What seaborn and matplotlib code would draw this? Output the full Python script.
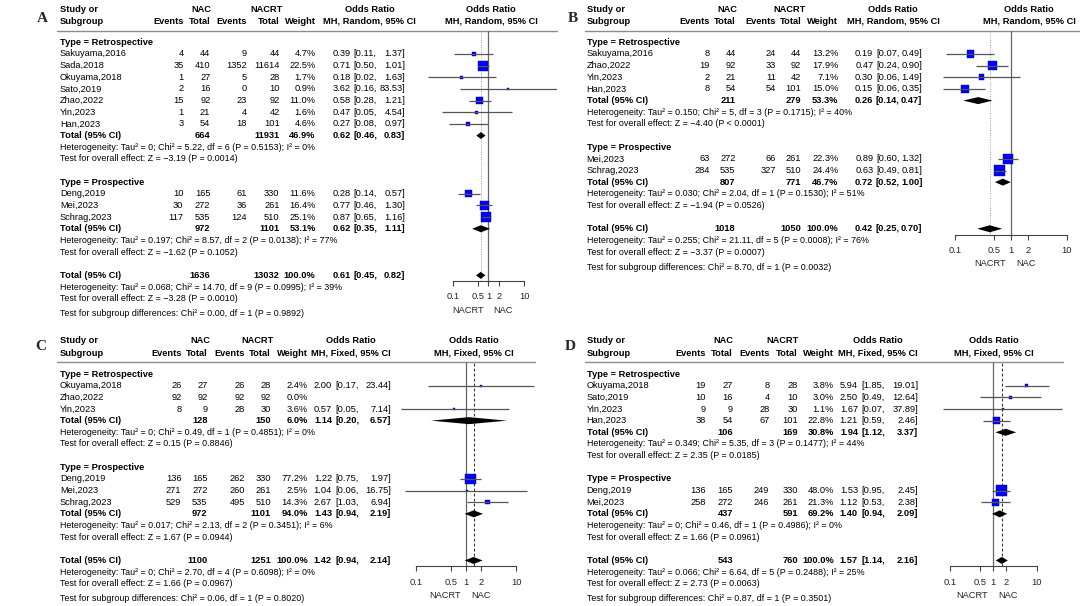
import numpy as np
import pandas as pd
import matplotlib.pyplot as plt
import seaborn as sns

# ------------------------------------------------------------
# Data
# ------------------------------------------------------------
R, P = "Retrospective", "Prospective"

# Panel A  (MH, Random)
a_study = ["Sakuyama,2016", "Sada,2018", "Okuyama,2018", "Sato,2019", "Zhao,2022",
           "Yin,2023", "Han,2023", "Deng,2019", "Mei,2023", "Schrag,2023"]
a_type = [R, R, R, R, R, R, R, P, P, P]
a_nac_ev = [4, 35, 1, 2, 15, 1, 3, 10, 30, 117]
a_nac_n = [44, 410, 27, 16, 92, 21, 54, 165, 272, 535]
a_crt_ev = [9, 1352, 5, 0, 23, 4, 18, 61, 36, 124]
a_crt_n = [44, 11614, 28, 10, 92, 42, 101, 330, 261, 510]
a_weight = [4.7, 22.5, 1.7, 0.9, 11.0, 1.6, 4.6, 11.6, 16.4, 25.1]
a_or = [0.39, 0.71, 0.18, 3.62, 0.58, 0.47, 0.27, 0.28, 0.77, 0.87]
a_lo = [0.11, 0.50, 0.02, 0.16, 0.28, 0.05, 0.08, 0.14, 0.46, 0.65]
a_hi = [1.37, 1.01, 1.63, 83.53, 1.21, 4.54, 0.97, 0.57, 1.30, 1.16]
a_sub_nac = [664, 972]
a_sub_crt = [11931, 1101]
a_sub_w = [46.9, 53.1]
a_sub_or = [0.62, 0.62]
a_sub_lo = [0.46, 0.35]
a_sub_hi = [0.83, 1.11]
a_sub_het = ["Heterogeneity: Tau² = 0; Chi² = 5.22, df = 6 (P = 0.5153); I² = 0%",
             "Heterogeneity: Tau² = 0.197; Chi² = 8.57, df = 2 (P = 0.0138); I² = 77%"]
a_sub_z = ["Test for overall effect: Z = −3.19 (P = 0.0014)",
           "Test for overall effect: Z = −1.62 (P = 0.1052)"]
a_all = [1636, 13032, 100.0, 0.61, 0.45, 0.82]
a_notes = ["Heterogeneity: Tau² = 0.068; Chi² = 14.70, df = 9 (P = 0.0995); I² = 39%",
           "Test for overall effect: Z = −3.28 (P = 0.0010)",
           "Test for subgroup differences: Chi² = 0.00, df = 1 (P = 0.9892)"]

# Panel B  (MH, Random)
b_study = ["Sakuyama,2016", "Zhao,2022", "Yin,2023", "Han,2023", "Mei,2023", "Schrag,2023"]
b_type = [R, R, R, R, P, P]
b_nac_ev = [8, 19, 2, 8, 63, 284]
b_nac_n = [44, 92, 21, 54, 272, 535]
b_crt_ev = [24, 33, 11, 54, 66, 327]
b_crt_n = [44, 92, 42, 101, 261, 510]
b_weight = [13.2, 17.9, 7.1, 15.0, 22.3, 24.4]
b_or = [0.19, 0.47, 0.30, 0.15, 0.89, 0.63]
b_lo = [0.07, 0.24, 0.06, 0.06, 0.60, 0.49]
b_hi = [0.49, 0.90, 1.49, 0.35, 1.32, 0.81]
b_sub_nac = [211, 807]
b_sub_crt = [279, 771]
b_sub_w = [53.3, 46.7]
b_sub_or = [0.26, 0.72]
b_sub_lo = [0.14, 0.52]
b_sub_hi = [0.47, 1.00]
b_sub_het = ["Heterogeneity: Tau² = 0.150; Chi² = 5, df = 3 (P = 0.1715); I² = 40%",
             "Heterogeneity: Tau² = 0.030; Chi² = 2.04, df = 1 (P = 0.1530); I² = 51%"]
b_sub_z = ["Test for overall effect: Z = −4.40 (P < 0.0001)",
           "Test for overall effect: Z = −1.94 (P = 0.0526)"]
b_all = [1018, 1050, 100.0, 0.42, 0.25, 0.70]
b_notes = ["Heterogeneity: Tau² = 0.255; Chi² = 21.11, df = 5 (P = 0.0008); I² = 76%",
           "Test for overall effect: Z = −3.37 (P = 0.0007)",
           "Test for subgroup differences: Chi² = 8.70, df = 1 (P = 0.0032)"]

# Panel C  (MH, Fixed)
c_study = ["Okuyama,2018", "Zhao,2022", "Yin,2023", "Deng,2019", "Mei,2023", "Schrag,2023"]
c_type = [R, R, R, P, P, P]
c_nac_ev = [26, 92, 8, 136, 271, 529]
c_nac_n = [27, 92, 9, 165, 272, 535]
c_crt_ev = [26, 92, 28, 262, 260, 495]
c_crt_n = [28, 92, 30, 330, 261, 510]
c_weight = [2.4, 0.0, 3.6, 77.2, 2.5, 14.3]
c_or = [2.00, np.nan, 0.57, 1.22, 1.04, 2.67]
c_lo = [0.17, np.nan, 0.05, 0.75, 0.06, 1.03]
c_hi = [23.44, np.nan, 7.14, 1.97, 16.75, 6.94]
c_sub_nac = [128, 972]
c_sub_crt = [150, 1101]
c_sub_w = [6.0, 94.0]
c_sub_or = [1.14, 1.43]
c_sub_lo = [0.20, 0.94]
c_sub_hi = [6.57, 2.19]
c_sub_het = ["Heterogeneity: Tau² = 0; Chi² = 0.49, df = 1 (P = 0.4851); I² = 0%",
             "Heterogeneity: Tau² = 0.017; Chi² = 2.13, df = 2 (P = 0.3451); I² = 6%"]
c_sub_z = ["Test for overall effect: Z = 0.15 (P = 0.8846)",
           "Test for overall effect: Z = 1.67 (P = 0.0944)"]
c_all = [1100, 1251, 100.0, 1.42, 0.94, 2.14]
c_notes = ["Heterogeneity: Tau² = 0; Chi² = 2.70, df = 4 (P = 0.6098); I² = 0%",
           "Test for overall effect: Z = 1.66 (P = 0.0967)",
           "Test for subgroup differences: Chi² = 0.06, df = 1 (P = 0.8020)"]

# Panel D  (MH, Fixed)
d_study = ["Okuyama,2018", "Sato,2019", "Yin,2023", "Han,2023", "Deng,2019", "Mei,2023"]
d_type = [R, R, R, R, P, P]
d_nac_ev = [19, 10, 9, 38, 136, 258]
d_nac_n = [27, 16, 9, 54, 165, 272]
d_crt_ev = [8, 4, 28, 67, 249, 246]
d_crt_n = [28, 10, 30, 101, 330, 261]
d_weight = [3.8, 3.0, 1.1, 22.8, 48.0, 21.3]
d_or = [5.94, 2.50, 1.67, 1.21, 1.53, 1.12]
d_lo = [1.85, 0.49, 0.07, 0.59, 0.95, 0.53]
d_hi = [19.01, 12.64, 37.89, 2.46, 2.45, 2.38]
d_sub_nac = [106, 437]
d_sub_crt = [169, 591]
d_sub_w = [30.8, 69.2]
d_sub_or = [1.94, 1.40]
d_sub_lo = [1.12, 0.94]
d_sub_hi = [3.37, 2.09]
d_sub_het = ["Heterogeneity: Tau² = 0.349; Chi² = 5.35, df = 3 (P = 0.1477); I² = 44%",
             "Heterogeneity: Tau² = 0; Chi² = 0.46, df = 1 (P = 0.4986); I² = 0%"]
d_sub_z = ["Test for overall effect: Z = 2.35 (P = 0.0185)",
           "Test for overall effect: Z = 1.66 (P = 0.0961)"]
d_all = [543, 760, 100.0, 1.57, 1.14, 2.16]
d_notes = ["Heterogeneity: Tau² = 0.066; Chi² = 6.64, df = 5 (P = 0.2488); I² = 25%",
           "Test for overall effect: Z = 2.73 (P = 0.0063)",
           "Test for subgroup differences: Chi² = 0.87, df = 1 (P = 0.3501)"]

axis_ticks = [0.1, 0.5, 1, 2, 10]
axis_labels = ["0.1", "0.5", "1", "2", "10"]

# ------------------------------------------------------------
# Layout (pixel positions of the columns in each panel)
# ------------------------------------------------------------
LAYOUT = {
    "A": dict(letter=(42, 18), x0=60, y0=30.7, ev1=183.4, n1=210.4, ev2=246.7, n2=279.6,
              wt=315.6, est=351, lo=353.5, hi=405, nac=201, crt=266.4, orc=369.5, rh=491,
              line=(57, 557), or1=488.4, dec=35.7, xl=420, xr=557),
    "B": dict(letter=(573, 18), x0=586.7, y0=30.7, ev1=709.5, n1=735.5, ev2=776, n2=801.2,
              wt=838.3, est=873.3, lo=876, hi=922.3, nac=726.9, crt=790, orc=893, rh=1029,
              line=(585, 1080), or1=1010.8, dec=55.8, xl=935, xr=1080),
    "C": dict(letter=(41, 347), x0=60, y0=362.4, ev1=181.5, n1=207.5, ev2=245.2, n2=271,
              wt=308, est=332, lo=335.6, hi=391, nac=200.7, crt=257.8, orc=351, rh=474.3,
              line=(57, 535), or1=466, dec=50, xl=395, xr=535),
    "D": dict(letter=(570.4, 347), x0=586.7, y0=362.4, ev1=706, n1=733, ev2=769.4, n2=797.8,
              wt=834, est=858, lo=861.8, hi=918.2, nac=723.4, crt=782.2, orc=878, rh=994,
              line=(585, 1063), or1=993.3, dec=43.3, xl=940, xr=1063),
}

W, H = 1080, 606
DY = 11.65
BODY = 6.7
NOTE = 6.4

sns.set_theme(style="white")
plt.rcParams["font.family"] = ["Liberation Sans", "DejaVu Sans"]

fig = plt.figure(figsize=(W / 100, H / 100), dpi=100)
bg = fig.add_axes([0, 0, 1, 1])
bg.set_xlim(0, W)
bg.set_ylim(H, 0)
bg.axis("off")


def txt(lay, x, r, s, ha="left", bold=False, size=BODY):
    bg.text(x, lay["y0"] + r * DY, s, ha=ha, va="center", fontsize=size,
            fontweight="bold" if bold else "normal", color="black")


def or_text(lay, r, o, lo, hi, bold=False):
    txt(lay, lay["est"], r, f"{o:.2f}", ha="right", bold=bold)
    txt(lay, lay["lo"], r, f"[{lo:.2f},", bold=bold)
    txt(lay, lay["hi"], r, f"{hi:.2f}]", ha="right", bold=bold)


def draw_panel(letter, model, studies, subs, overall, notes):
    lay = LAYOUT[letter]

    # ---- header ----
    lx, ly = lay["letter"]
    bg.text(lx, ly, letter, ha="center", va="center", fontsize=11, fontweight="bold",
            family="Liberation Serif")
    txt(lay, lay["x0"], -1.85, "Study or", bold=True)
    txt(lay, lay["x0"], -0.8, "Subgroup", bold=True)
    txt(lay, lay["nac"], -1.85, "NAC", ha="center", bold=True)
    txt(lay, lay["crt"], -1.85, "NACRT", ha="center", bold=True)
    txt(lay, lay["ev1"], -0.8, "Events", ha="right", bold=True)
    txt(lay, lay["n1"], -0.8, "Total", ha="right", bold=True)
    txt(lay, lay["ev2"], -0.8, "Events", ha="right", bold=True)
    txt(lay, lay["n2"], -0.8, "Total", ha="right", bold=True)
    txt(lay, lay["wt"], -0.8, "Weight", ha="right", bold=True)
    for xc in (lay["orc"], lay["rh"]):
        txt(lay, xc, -1.85, "Odds Ratio", ha="center", bold=True)
        txt(lay, xc, -0.8, f"MH, {model}, 95% CI", ha="center", bold=True)
    bg.plot(lay["line"], [lay["y0"], lay["y0"]], color="#8c8c8c", lw=1.0)

    # ---- table rows ----
    studies = studies.copy()
    studies["row"] = np.nan
    subs = subs.copy()
    subs["row"] = np.nan
    r = 1
    for gi, g in subs.iterrows():
        txt(lay, lay["x0"], r, f"Type = {g['type']}", bold=True)
        r += 1
        for si in studies.index[studies["type"] == g["type"]]:
            s = studies.loc[si]
            studies.loc[si, "row"] = r
            txt(lay, lay["x0"], r, s["study"])
            txt(lay, lay["ev1"], r, str(s["nac_ev"]), ha="right")
            txt(lay, lay["n1"], r, str(s["nac_n"]), ha="right")
            txt(lay, lay["ev2"], r, str(s["crt_ev"]), ha="right")
            txt(lay, lay["n2"], r, str(s["crt_n"]), ha="right")
            txt(lay, lay["wt"], r, f"{s['weight']:.1f}%", ha="right")
            if not np.isnan(s["odds"]):
                or_text(lay, r, s["odds"], s["lo"], s["hi"])
            r += 1
        subs.loc[gi, "row"] = r
        txt(lay, lay["x0"], r, "Total (95% CI)", bold=True)
        txt(lay, lay["n1"], r, str(g["nac"]), ha="right", bold=True)
        txt(lay, lay["n2"], r, str(g["crt"]), ha="right", bold=True)
        txt(lay, lay["wt"], r, f"{g['weight']:.1f}%", ha="right", bold=True)
        or_text(lay, r, g["odds"], g["lo"], g["hi"], bold=True)
        txt(lay, lay["x0"], r + 1, g["het"], size=NOTE)
        txt(lay, lay["x0"], r + 2, g["z"], size=NOTE)
        r += 4

    tot_row = r
    n_nac, n_crt, w_all, o_all, lo_all, hi_all = overall
    txt(lay, lay["x0"], tot_row, "Total (95% CI)", bold=True)
    txt(lay, lay["n1"], tot_row, str(n_nac), ha="right", bold=True)
    txt(lay, lay["n2"], tot_row, str(n_crt), ha="right", bold=True)
    txt(lay, lay["wt"], tot_row, f"{w_all:.1f}%", ha="right", bold=True)
    or_text(lay, tot_row, o_all, lo_all, hi_all, bold=True)
    txt(lay, lay["x0"], tot_row + 1, notes[0], size=NOTE)
    txt(lay, lay["x0"], tot_row + 2, notes[1], size=NOTE)
    txt(lay, lay["x0"], tot_row + 3.3, notes[2], size=NOTE)

    # ---- forest axes ----
    r_axis = tot_row + 0.5
    y_top = lay["y0"]
    y_bot = lay["y0"] + r_axis * DY
    ax = fig.add_axes([lay["xl"] / W, 1 - y_bot / H, (lay["xr"] - lay["xl"]) / W,
                       (y_bot - y_top) / H])
    ax.patch.set_visible(False)
    ax.set_xscale("log")

    ax.axvline(1, color="#666666", lw=0.9, zorder=1)
    if model == "Random":
        ax.axvline(o_all, color="#a0a0a0", lw=0.7, ls=(0, (1, 1.5)), zorder=1)
    else:
        ax.axvline(o_all, color="#333333", lw=0.8, ls=(0, (2.5, 2)), zorder=1)

    st = studies.dropna(subset=["odds"])
    ax.hlines(st["row"], st["lo"], st["hi"], color="#555555", lw=0.9, zorder=4)
    sns.scatterplot(data=st, x="odds", y="row", size="weight", sizes=(0, 57),
                    size_norm=(0, st["weight"].max()), marker="s", color="#0000ff",
                    edgecolor="#00008b", linewidth=0.3, legend=False, ax=ax, zorder=3)

    h = 0.3
    for _, g in subs.iterrows():
        ax.fill([g["lo"], g["odds"], g["hi"], g["odds"]],
                [g["row"], g["row"] - h, g["row"], g["row"] + h],
                color="black", lw=0, zorder=5)
    ax.fill([lo_all, o_all, hi_all, o_all],
            [tot_row, tot_row - h, tot_row, tot_row + h], color="black", lw=0, zorder=5)

    ax.set_xlim(10 ** ((lay["xl"] - lay["or1"]) / lay["dec"]),
                10 ** ((lay["xr"] - lay["or1"]) / lay["dec"]))
    ax.set_ylim(r_axis, 0)
    ax.set_xlabel("")
    ax.set_ylabel("")
    ax.set_yticks([])
    ax.set_xticks(axis_ticks)
    ax.set_xticklabels(axis_labels)
    ax.minorticks_off()
    for side in ("top", "left", "right"):
        ax.spines[side].set_visible(False)
    ax.spines["bottom"].set_bounds(axis_ticks[0], axis_ticks[-1])
    ax.spines["bottom"].set_color("#444444")
    ax.spines["bottom"].set_linewidth(0.8)
    ax.tick_params(axis="x", direction="out", length=3.6, width=0.8, color="#444444",
                   labelsize=BODY, pad=4.5, bottom=True)
    ax.annotate("NACRT", xy=(1, 0), xycoords=("data", "axes fraction"), xytext=(-3.6, -21),
                textcoords="offset points", ha="right", va="center", fontsize=BODY,
                annotation_clip=False)
    ax.annotate("NAC", xy=(1, 0), xycoords=("data", "axes fraction"), xytext=(3.6, -21),
                textcoords="offset points", ha="left", va="center", fontsize=BODY,
                annotation_clip=False)


def make_studies(study, kind, nac_ev, nac_n, crt_ev, crt_n, weight, odds, lo, hi):
    return pd.DataFrame({"study": study, "type": kind, "nac_ev": nac_ev, "nac_n": nac_n,
                         "crt_ev": crt_ev, "crt_n": crt_n, "weight": weight,
                         "odds": odds, "lo": lo, "hi": hi})


def make_subs(nac, crt, weight, odds, lo, hi, het, z):
    return pd.DataFrame({"type": [R, P], "nac": nac, "crt": crt, "weight": weight,
                         "odds": odds, "lo": lo, "hi": hi, "het": het, "z": z})


draw_panel("A", "Random",
           make_studies(a_study, a_type, a_nac_ev, a_nac_n, a_crt_ev, a_crt_n, a_weight, a_or, a_lo, a_hi),
           make_subs(a_sub_nac, a_sub_crt, a_sub_w, a_sub_or, a_sub_lo, a_sub_hi, a_sub_het, a_sub_z),
           a_all, a_notes)
draw_panel("B", "Random",
           make_studies(b_study, b_type, b_nac_ev, b_nac_n, b_crt_ev, b_crt_n, b_weight, b_or, b_lo, b_hi),
           make_subs(b_sub_nac, b_sub_crt, b_sub_w, b_sub_or, b_sub_lo, b_sub_hi, b_sub_het, b_sub_z),
           b_all, b_notes)
draw_panel("C", "Fixed",
           make_studies(c_study, c_type, c_nac_ev, c_nac_n, c_crt_ev, c_crt_n, c_weight, c_or, c_lo, c_hi),
           make_subs(c_sub_nac, c_sub_crt, c_sub_w, c_sub_or, c_sub_lo, c_sub_hi, c_sub_het, c_sub_z),
           c_all, c_notes)
draw_panel("D", "Fixed",
           make_studies(d_study, d_type, d_nac_ev, d_nac_n, d_crt_ev, d_crt_n, d_weight, d_or, d_lo, d_hi),
           make_subs(d_sub_nac, d_sub_crt, d_sub_w, d_sub_or, d_sub_lo, d_sub_hi, d_sub_het, d_sub_z),
           d_all, d_notes)

fig.savefig("out.png", dpi=100)
plt.close(fig)
